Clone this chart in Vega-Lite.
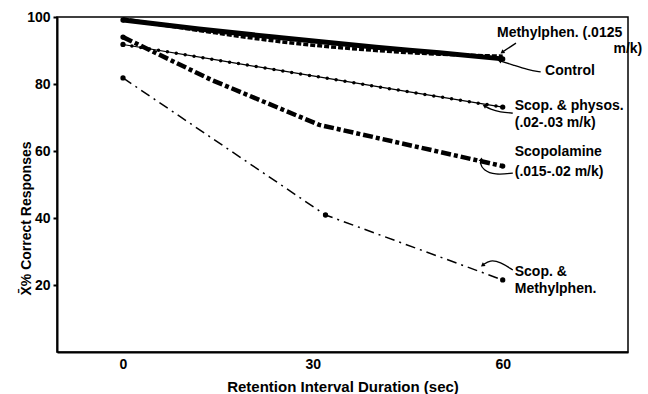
{
  "$schema": "https://vega.github.io/schema/vega-lite/v6.json",
  "width": 571,
  "height": 335,
  "autosize": "none",
  "padding": {"left": 57, "top": 17, "right": 20, "bottom": 42},
  "background": "white",
  "config": {
    "font": "Liberation Sans",
    "view": {"stroke": "black", "strokeWidth": 1.5}
  },
  "datasets": {
    "lines": [
      {"s": "Control", "x": 0, "y": 99.1}, {"s": "Control", "x": 12, "y": 96.4}, {"s": "Control", "x": 25, "y": 93.8}, {"s": "Control", "x": 40, "y": 91.0}, {"s": "Control", "x": 50, "y": 89.3}, {"s": "Control", "x": 60, "y": 87.5},
      {"s": "Methylphen", "x": 0, "y": 99.4}, {"s": "Methylphen", "x": 12, "y": 96.0}, {"s": "Methylphen", "x": 25, "y": 92.6}, {"s": "Methylphen", "x": 40, "y": 90.0}, {"s": "Methylphen", "x": 50, "y": 88.9}, {"s": "Methylphen", "x": 60, "y": 88.3},
      {"s": "Physos", "x": 0, "y": 91.8}, {"s": "Physos", "x": 15, "y": 87.1}, {"s": "Physos", "x": 30, "y": 82.4}, {"s": "Physos", "x": 45, "y": 77.7}, {"s": "Physos", "x": 60, "y": 73.1},
      {"s": "Scopolamine", "x": 0, "y": 94.0}, {"s": "Scopolamine", "x": 14, "y": 81.2}, {"s": "Scopolamine", "x": 31, "y": 67.8}, {"s": "Scopolamine", "x": 60, "y": 55.5},
      {"s": "ScopMeth", "x": 0, "y": 81.8}, {"s": "ScopMeth", "x": 32, "y": 40.9}, {"s": "ScopMeth", "x": 60, "y": 21.5}
    ],
    "dots": [
      {"x": 0, "y": 99.1}, {"x": 0, "y": 91.8}, {"x": 0, "y": 94.0}, {"x": 0, "y": 81.8},
      {"x": 60, "y": 87.5}, {"x": 60, "y": 73.1}, {"x": 60, "y": 55.5}, {"x": 32, "y": 40.9}, {"x": 60, "y": 21.5}
    ],
    "notes": [
      {"x": 59.1, "y": 95.2, "t": "Methylphen. (.0125"},
      {"x": 77.5, "y": 90.5, "t": "m/k)"},
      {"x": 66.7, "y": 83.9, "t": "Control"},
      {"x": 61.9, "y": 73.4, "t": "Scop. & physos."},
      {"x": 61.9, "y": 68.4, "t": "(.02-.03 m/k)"},
      {"x": 61.9, "y": 59.7, "t": "Scopolamine"},
      {"x": 61.9, "y": 53.7, "t": "(.015-.02 m/k)"},
      {"x": 61.9, "y": 23.9, "t": "Scop. &"},
      {"x": 61.9, "y": 18.8, "t": "Methylphen."}
    ],
    "leaders": [
      {"k": "m", "i": 0, "x": 62.1, "y": 92.2}, {"k": "m", "i": 1, "x": 60.0, "y": 89.6},
      {"k": "c", "i": 0, "x": 66.0, "y": 83.6}, {"k": "c", "i": 1, "x": 64.0, "y": 84.2}, {"k": "c", "i": 2, "x": 61.6, "y": 85.7}, {"k": "c", "i": 3, "x": 59.6, "y": 86.9},
      {"k": "p", "i": 0, "x": 61.6, "y": 71.3}, {"k": "p", "i": 1, "x": 59.6, "y": 71.6}, {"k": "p", "i": 2, "x": 58.0, "y": 72.5}, {"k": "p", "i": 3, "x": 57.2, "y": 73.4},
      {"k": "s", "i": 0, "x": 61.6, "y": 53.4}, {"k": "s", "i": 1, "x": 58.8, "y": 52.8}, {"k": "s", "i": 2, "x": 56.9, "y": 54.3}, {"k": "s", "i": 3, "x": 56.4, "y": 56.4}, {"k": "s", "i": 4, "x": 56.6, "y": 57.3},
      {"k": "sm", "i": 0, "x": 61.6, "y": 24.5}, {"k": "sm", "i": 1, "x": 59.6, "y": 26.9}, {"k": "sm", "i": 2, "x": 58.0, "y": 27.5}, {"k": "sm", "i": 3, "x": 56.9, "y": 26.0}
    ]
  },
  "encoding": {
    "x": {
      "field": "x", "type": "quantitative",
      "scale": {"domain": [-10.43, 79.8], "nice": false, "zero": false},
      "axis": {
        "title": "Retention Interval Duration (sec)",
        "values": [0, 30, 60], "grid": false, "ticks": false,
        "labelPadding": 5, "labelFontSize": 14, "labelFontWeight": "bold", "labelColor": "black",
        "titleFontSize": 15, "titleFontWeight": "bold", "titleColor": "black", "titlePadding": 8,
        "domainWidth": 2, "domainColor": "black"
      }
    },
    "y": {
      "field": "y", "type": "quantitative",
      "scale": {"domain": [0, 100], "nice": false},
      "axis": {
        "title": "X\u0304% Correct Responses",
        "values": [20, 40, 60, 80, 100], "grid": false,
        "tickSize": 4, "tickWidth": 2, "tickColor": "black",
        "labelPadding": 3, "labelFontSize": 14, "labelFontWeight": "bold", "labelColor": "black",
        "titleFontSize": 14, "titleFontWeight": "bold", "titleColor": "black",
        "titleX": -31, "titleY": 201, "titleAngle": -90, "titleAlign": "center", "titleBaseline": "middle",
        "domainWidth": 2, "domainColor": "black"
      }
    }
  },
  "layer": [
    {"data": {"name": "lines"}, "transform": [{"filter": "datum.s == 'Control'"}],
     "mark": {"type": "line", "color": "black", "strokeWidth": 5, "interpolate": "monotone"}},
    {"data": {"name": "lines"}, "transform": [{"filter": "datum.s == 'Methylphen'"}],
     "mark": {"type": "line", "color": "black", "strokeWidth": 3.5, "strokeDash": [5, 2], "interpolate": "monotone"}},
    {"data": {"name": "lines"}, "transform": [{"filter": "datum.s == 'Physos'"}],
     "mark": {"type": "line", "color": "black", "strokeWidth": 1.2}},
    {"data": {"name": "lines"}, "transform": [{"filter": "datum.s == 'Physos'"}],
     "mark": {"type": "line", "color": "black", "strokeWidth": 3.5, "strokeDash": [0, 9], "strokeCap": "round"}},
    {"data": {"name": "lines"}, "transform": [{"filter": "datum.s == 'Scopolamine'"}],
     "mark": {"type": "line", "color": "black", "strokeWidth": 4.5, "strokeDash": [10, 3, 4, 3]}},
    {"data": {"name": "lines"}, "transform": [{"filter": "datum.s == 'ScopMeth'"}],
     "mark": {"type": "line", "color": "black", "strokeWidth": 1.5, "strokeDash": [10, 5, 2, 5]}},
    {"data": {"name": "dots"},
     "mark": {"type": "point", "filled": true, "color": "black", "size": 28, "opacity": 1}},
    {"data": {"name": "leaders"},
     "mark": {"type": "line", "color": "black", "strokeWidth": 1.3, "interpolate": "basis"},
     "encoding": {"detail": {"field": "k"}, "order": {"field": "i", "type": "quantitative"}}},
    {"data": {"name": "leaders"}, "transform": [{"filter": "datum.k == 'm' && datum.i == 1"}],
     "mark": {"type": "point", "shape": "triangle", "filled": true, "color": "black", "size": 22, "opacity": 1, "angle": 235}},
    {"data": {"name": "leaders"}, "transform": [{"filter": "datum.k == 'c' && datum.i == 3"}],
     "mark": {"type": "point", "shape": "triangle", "filled": true, "color": "black", "size": 22, "opacity": 1, "angle": 287}},
    {"data": {"name": "leaders"}, "transform": [{"filter": "datum.k == 'p' && datum.i == 3"}],
     "mark": {"type": "point", "shape": "triangle", "filled": true, "color": "black", "size": 22, "opacity": 1, "angle": 300}},
    {"data": {"name": "leaders"}, "transform": [{"filter": "datum.k == 's' && datum.i == 4"}],
     "mark": {"type": "point", "shape": "triangle", "filled": true, "color": "black", "size": 22, "opacity": 1, "angle": 15}},
    {"data": {"name": "leaders"}, "transform": [{"filter": "datum.k == 'sm' && datum.i == 3"}],
     "mark": {"type": "point", "shape": "triangle", "filled": true, "color": "black", "size": 22, "opacity": 1, "angle": 234}},
    {"data": {"name": "notes"},
     "mark": {"type": "text", "align": "left", "baseline": "middle", "fontSize": 14, "fontWeight": "bold", "color": "black"},
     "encoding": {"text": {"field": "t"}}}
  ]
}
